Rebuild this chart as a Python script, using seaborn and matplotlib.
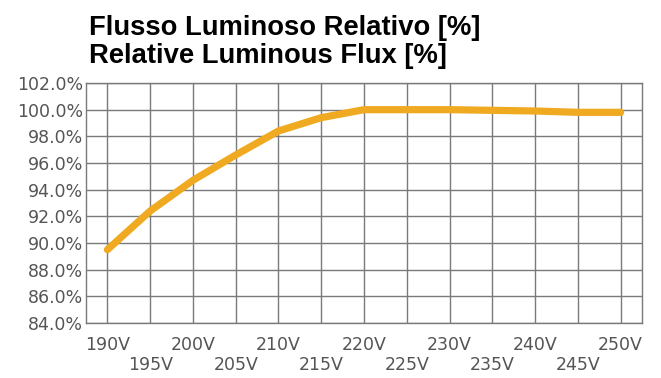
import matplotlib
matplotlib.use("Agg")
import matplotlib.pyplot as plt
import seaborn as sns
import pandas as pd

# values
voltages = [190, 195, 200, 205, 210, 215, 220, 225, 230, 235, 240, 245, 250]
flux_pct = [89.5, 92.4, 94.7, 96.6, 98.4, 99.4, 100.0, 100.0, 100.0, 99.95, 99.9, 99.8, 99.8]
y_ticks = [84, 86, 88, 90, 92, 94, 96, 98, 100, 102]

df = pd.DataFrame({"V": voltages, "flux": flux_pct})

sns.set_style("white")
plt.rcParams["font.family"] = ["DejaVu Sans"]
fig = plt.figure(figsize=(6.61, 3.78), dpi=100)
ax = fig.add_axes([86 / 661, 55 / 378, 556 / 661, 240 / 378])

sns.lineplot(data=df, x="V", y="flux", ax=ax, color="#F0AA22", linewidth=5.2,
             solid_capstyle="round")

ax.set_xlim(187.5, 252.5)
ax.set_ylim(84, 102)
ax.set_xticks(voltages)
ax.set_xticklabels([f"{v}V" if i % 2 == 0 else f"\n{v}V" for i, v in enumerate(voltages)])
ax.set_yticks(y_ticks)
ax.set_yticklabels([f"{t:.1f}%" for t in y_ticks])
ax.grid(True, color="#7a7a7a", linewidth=1)
ax.set_axisbelow(True)
for s in ax.spines.values():
    s.set_color("#7a7a7a")
    s.set_linewidth(1)
ax.tick_params(axis="both", length=0, labelsize=12.5, colors="#555555", pad=2)
ax.tick_params(axis="x", pad=9)
ax.set_xlabel("")
ax.set_ylabel("")

fig.text(89 / 661, 1 - 15 / 378, "Flusso Luminoso Relativo [%]\nRelative Luminous Flux [%]",
         ha="left", va="top", fontsize=19.75, fontweight="bold",
         family="Liberation Sans", color="black", linespacing=1.12)

fig.savefig("out.png", dpi=100)
